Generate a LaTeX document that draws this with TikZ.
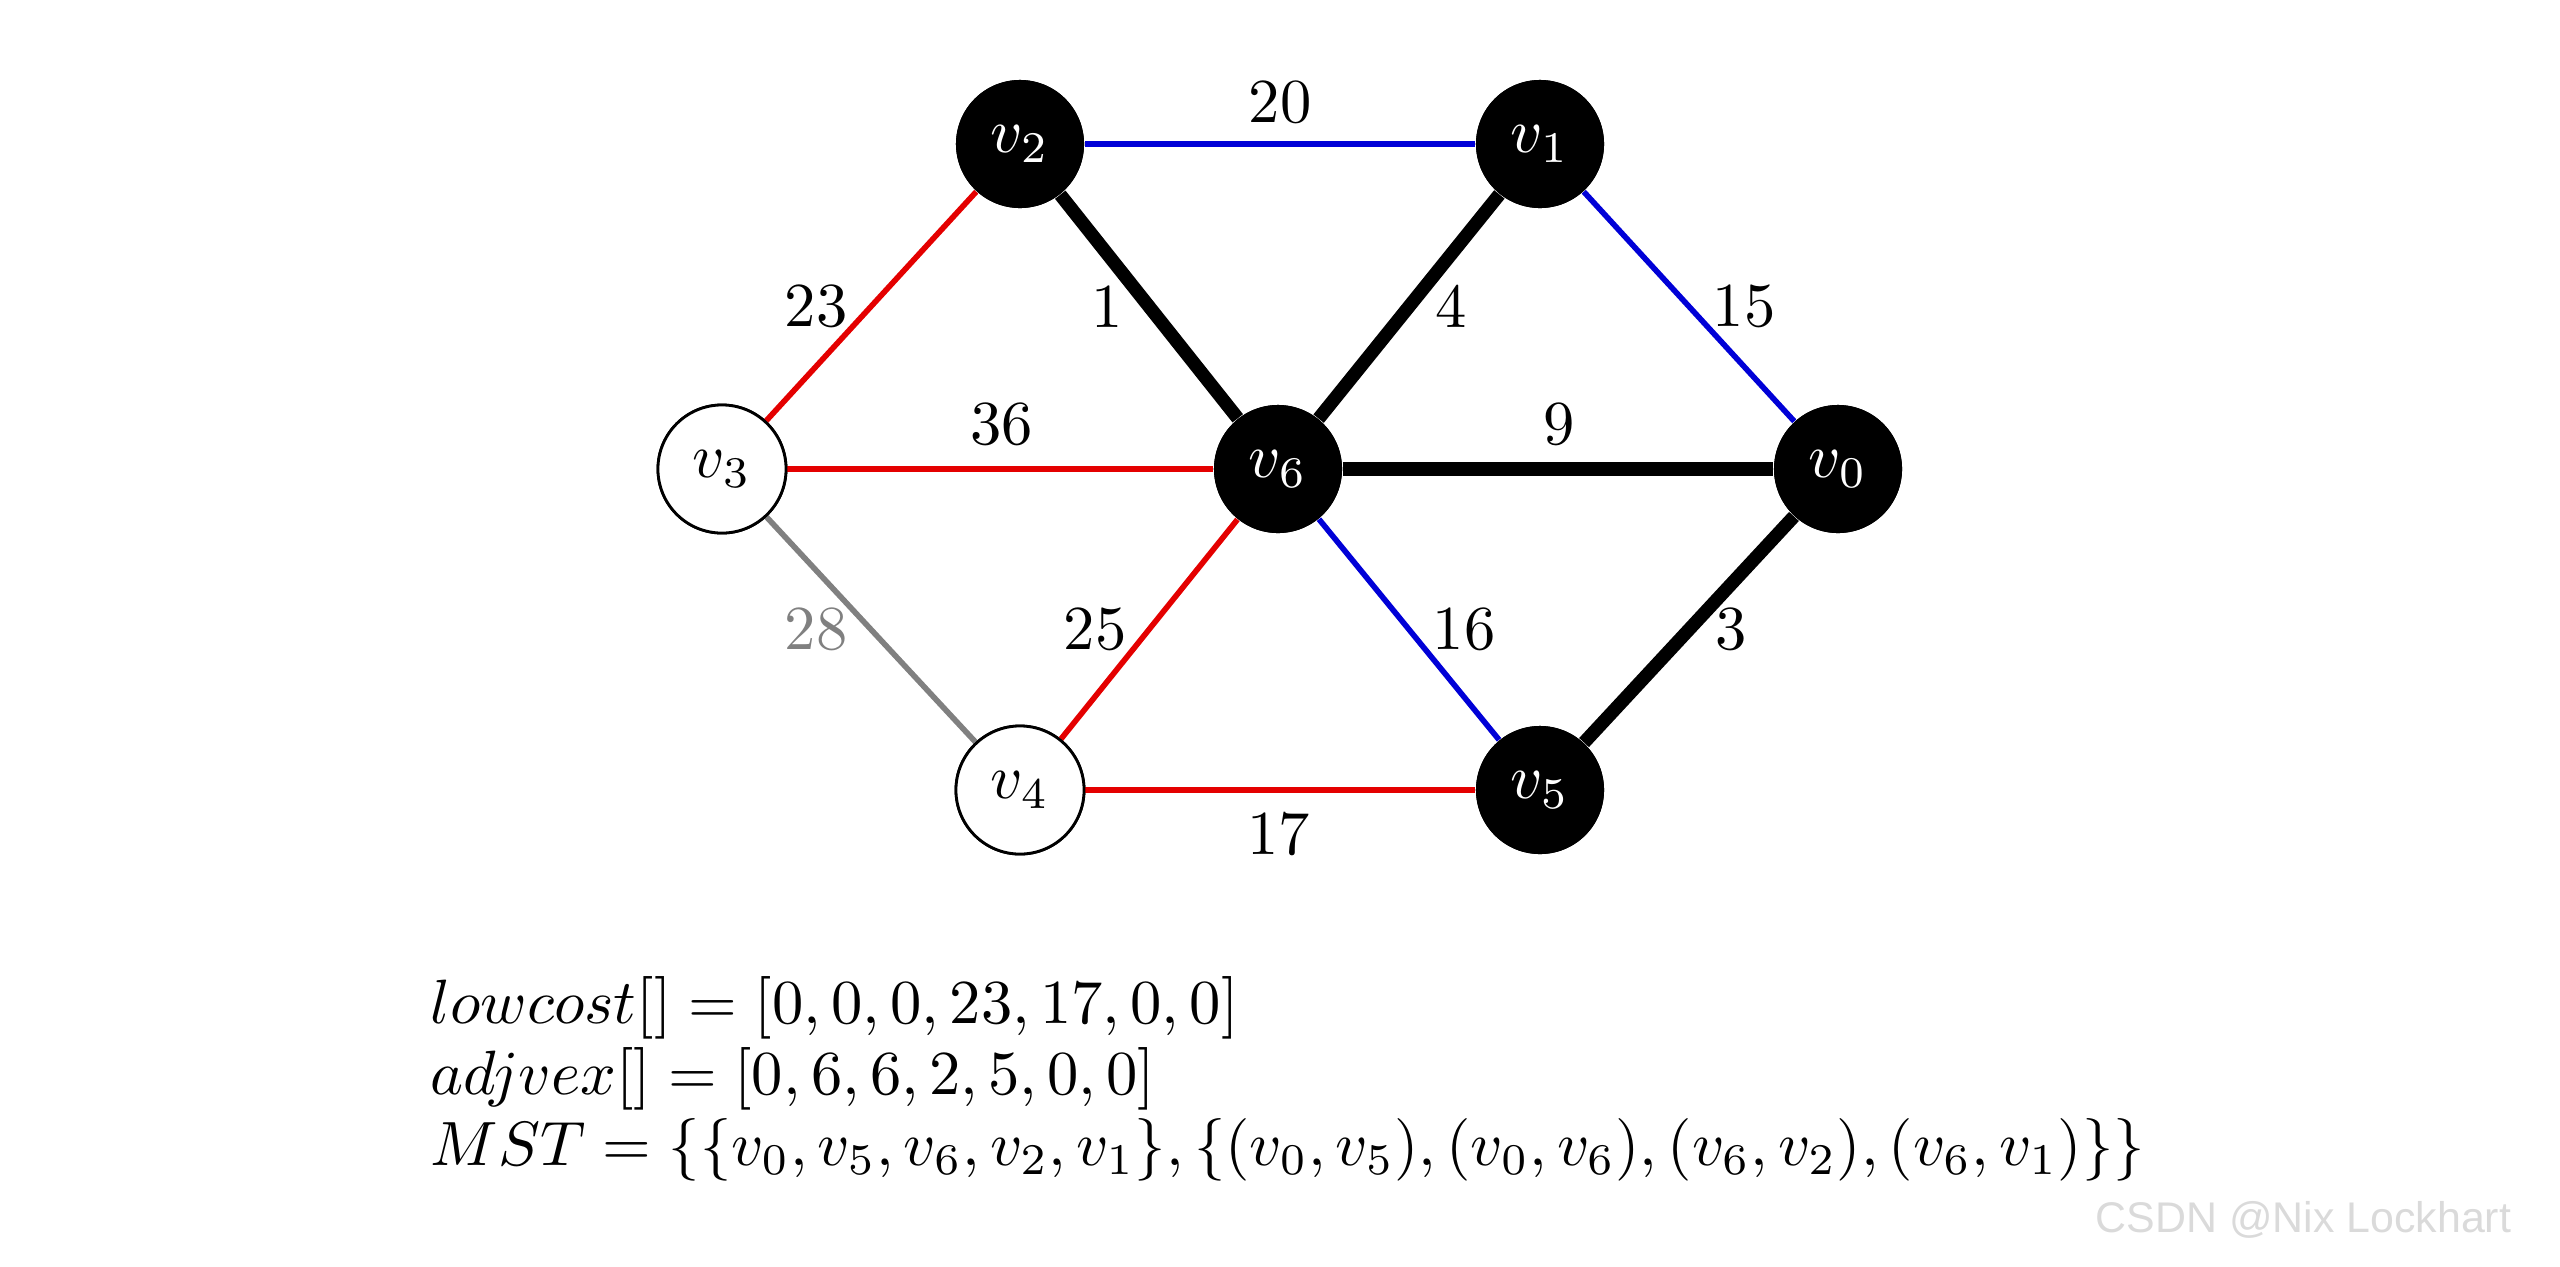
\documentclass[tikz,border=0pt]{standalone}
\usepackage{graphicx}
\usepackage{fontspec}
\newfontfamily\wmfont{Liberation Sans}
\definecolor{ered}{RGB}{228,0,0}
\definecolor{eblue}{RGB}{0,0,215}
\definecolor{egray}{RGB}{128,128,128}
\definecolor{wmgray}{RGB}{218,218,218}
\newcommand\bigtx[1]{\scalebox{1.78}{#1}}
\begin{document}
\begin{tikzpicture}[x=0.01cm,y=-0.01cm,
  font=\fontsize{10}{12}\selectfont,
  vtx/.style={circle,minimum size=1.28cm,inner sep=0pt},
  invtx/.style={vtx,fill=black,text=white},
  outvtx/.style={vtx,draw=black,line width=0.8pt,fill=white},
  thin/.style={line width=1.6pt},
  tree/.style={line width=3.8pt,black},
  lbl/.style={midway,inner sep=0pt}]
\useasboundingbox (0,0) rectangle (2560,1266);
% vertices
\node[invtx]  (v2) at (1020,144) {\bigtx{$v_2$}};
\node[invtx]  (v1) at (1540,144) {\bigtx{$v_1$}};
\node[outvtx] (v3) at (722,469) {\bigtx{$v_3$}};
\node[invtx]  (v6) at (1278,469) {\bigtx{$v_6$}};
\node[invtx]  (v0) at (1838,469) {\bigtx{$v_0$}};
\node[outvtx] (v4) at (1020,790) {\bigtx{$v_4$}};
\node[invtx]  (v5) at (1540,790) {\bigtx{$v_5$}};
% edges
\draw[thin,eblue] (v2) -- node[lbl,shift={(0,-42)},text=black] {\bigtx{20}} (v1);
\draw[thin,ered] (v3) -- node[lbl,shift={(-55,0)},text=black] {\bigtx{23}} (v2);
\draw[tree] (v2) -- node[lbl,shift={(-42,0)}] {\bigtx{1}} (v6);
\draw[tree] (v6) -- node[lbl,shift={(42,0)}] {\bigtx{4}} (v1);
\draw[thin,eblue] (v1) -- node[lbl,shift={(55,0)},text=black] {\bigtx{15}} (v0);
\draw[thin,ered] (v3) -- node[lbl,shift={(1,-45)},text=black] {\bigtx{36}} (v6);
\draw[tree] (v6) -- node[lbl,shift={(1,-45)}] {\bigtx{9}} (v0);
\draw[thin,egray] (v3) -- node[lbl,shift={(-55,0)},text=egray] {\bigtx{28}} (v4);
\draw[thin,ered] (v4) -- node[lbl,shift={(-54,0)},text=black] {\bigtx{25}} (v6);
\draw[thin,eblue] (v6) -- node[lbl,shift={(55,0)},text=black] {\bigtx{16}} (v5);
\draw[tree] (v0) -- node[lbl,shift={(42,0)}] {\bigtx{3}} (v5);
\draw[thin,ered] (v4) -- node[lbl,shift={(-2,44)},text=black] {\bigtx{17}} (v5);
% redraw vertices on top of edge ends
\node[invtx]  at (v2) {\bigtx{$v_2$}};
\node[invtx]  at (v1) {\bigtx{$v_1$}};
\node[outvtx] at (v3) {\bigtx{$v_3$}};
\node[invtx]  at (v6) {\bigtx{$v_6$}};
\node[invtx]  at (v0) {\bigtx{$v_0$}};
\node[outvtx] at (v4) {\bigtx{$v_4$}};
\node[invtx]  at (v5) {\bigtx{$v_5$}};
% text lines
\node[anchor=base west,inner sep=0pt] (t1) at (430,1023) {\bigtx{$lowcost[] = [0,0,0,23,17,0,0]$}};
\node[anchor=base west,inner sep=0pt] (t2) at (430,1094) {\bigtx{$adjvex[] = [0,6,6,2,5,0,0]$}};
\node[anchor=base west,inner sep=0pt] (t3) at (430,1165) {\bigtx{$MST = \{\{v_0,v_5,v_6,v_2,v_1\},\{(v_0,v_5),(v_0,v_6),(v_6,v_2),(v_6,v_1)\}\}$}};
% watermark
\node[anchor=base west,inner sep=0pt,text=wmgray,font=\wmfont\fontsize{12.2}{14}\selectfont] (wm) at (2095,1232) {CSDN @Nix Lockhart};
\end{tikzpicture}
\end{document}
